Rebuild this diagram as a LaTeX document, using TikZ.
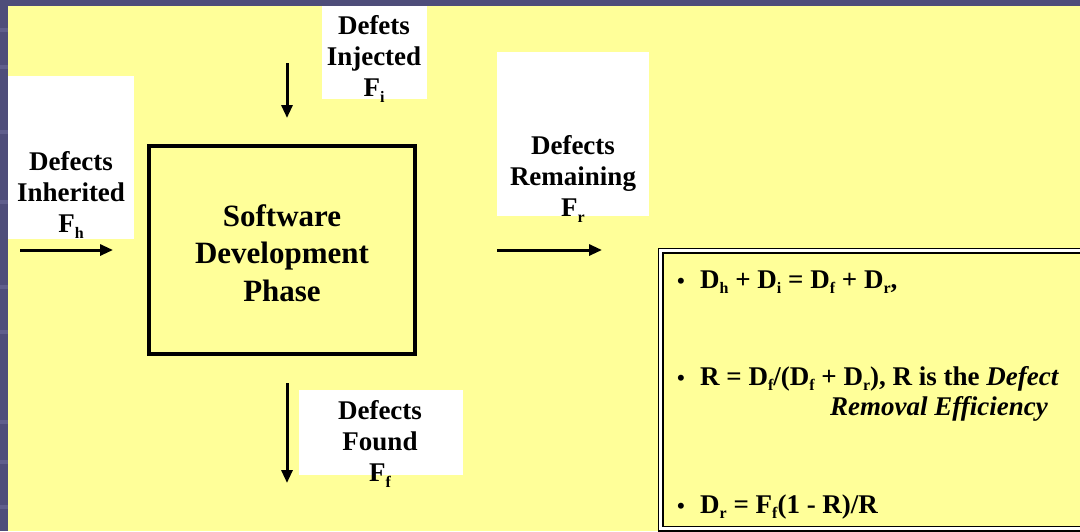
\documentclass[tikz,border=0pt]{standalone}
\usepackage{fontspec}
\setmainfont{Liberation Serif}
\usetikzlibrary{arrows.meta}
\definecolor{slideblue}{HTML}{4E4D7A}
\definecolor{slidebluelight}{HTML}{5F5E8C}
\definecolor{slideyellow}{HTML}{FFFF99}
\newcommand{\sbs}[1]{\raisebox{-5.5pt}{\fontsize{16}{16}\selectfont #1}}
\tikzset{
  whitebox/.style={fill=white, draw=none, inner sep=0pt},
  lbl/.style={align=center, inner sep=0pt, font=\fontsize{27}{31}\selectfont\bfseries},
  flow/.style={line width=3pt, -{Triangle[length=13pt,width=11pt]}},
  formula/.style={anchor=base west, inner sep=0pt, font=\fontsize{27}{31}\selectfont\bfseries},
  bul/.style={anchor=base west, inner sep=0pt, font=\fontsize{22}{26}\selectfont\bfseries}
}
\begin{document}
\begin{tikzpicture}[x=1pt,y=-1pt]
\useasboundingbox (0,0) rectangle (1080,531);
\clip (0,0) rectangle (1080,531);
% background
\fill[slideblue] (0,0) rectangle (1080,531);
\foreach \yy in {28,65,130,200,285,330,420,460,505} {
  \fill[slidebluelight] (0,\yy) rectangle (8,\yy+4);
}
\fill[slideyellow] (8,6) rectangle (1080,531);

% white label boxes
\node[whitebox, minimum width=126pt, minimum height=163pt] (inhbox) at (71,157.5) {};
\node[whitebox, minimum width=105pt, minimum height=93pt] (injbox) at (374.5,52.5) {};
\node[whitebox, minimum width=152pt, minimum height=164pt] (rembox) at (573,134) {};
\node[whitebox, minimum width=164pt, minimum height=85pt] (fndbox) at (381,432.5) {};

% labels
\node[lbl] (inh) at (71,195) {Defects\\Inherited\\F\sbs{h}};
\node[lbl] (inj) at (374,59) {Defets\\Injected\\F\sbs{i}};
\node[lbl] (rem) at (573,179) {Defects\\Remaining\\F\sbs{r}};
\node[lbl] (fnd) at (380,444) {Defects\\Found\\F\sbs{f}};

% main box
\node[draw, line width=4pt, minimum width=266pt, minimum height=208pt, inner sep=0pt] (phase) at (282,250) {};
\node[align=center, inner sep=0pt, font=\fontsize{31}{37.5}\selectfont\bfseries] (phasetxt) at (282,253) {Software\\Development\\Phase};

% arrows
\coordinate (injS) at (287,63);
\coordinate (injE) at (287,118);
\coordinate (inhS) at (20,250);
\coordinate (inhE) at (113,250);
\coordinate (remS) at (497,250);
\coordinate (remE) at (602,250);
\coordinate (fndS) at (287,383);
\coordinate (fndE) at (287,483);
\draw[flow] (injS) -- (injE);
\draw[flow] (inhS) -- (inhE);
\draw[flow] (remS) -- (remE);
\draw[flow] (fndS) -- (fndE);

% formula box
\node[draw, double, double distance=3pt, line width=1.5pt, minimum width=450pt, minimum height=278pt, anchor=north west, inner sep=0pt] (fbox) at (660,250) {};
\node[bul] (b1) at (677,288) {•};
\node[bul] (b2) at (677,385) {•};
\node[bul] (b3) at (677,513) {•};
\node[formula] (f1) at (700,288) {D\sbs{h} + D\sbs{i} = D\sbs{f} + D\sbs{r},};
\node[formula] (f2) at (700,385) {R = D\sbs{f}/(D\sbs{f} + D\sbs{r}), R is the \textit{Defect}};
\node[formula] (f2b) at (830,415) {\textit{Removal Efficiency}};
\node[formula] (f3) at (700,513) {D\sbs{r} = F\sbs{f}(1 - R)/R};
\end{tikzpicture}
\end{document}
